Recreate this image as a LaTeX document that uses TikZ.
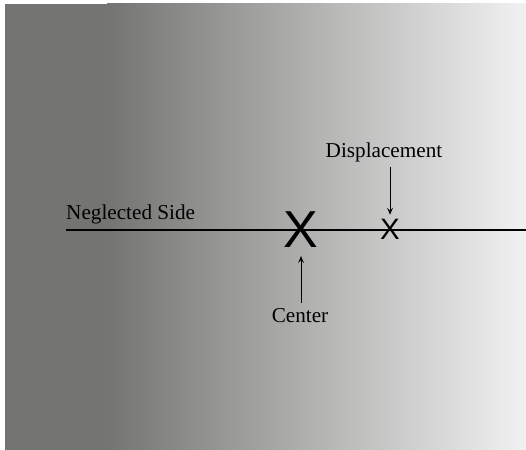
\documentclass[tikz,border=0pt]{standalone}
\usepackage{xcolor}
\usepackage{fontspec}
\setmainfont{Liberation Serif}
\newfontfamily\markfont{Liberation Sans}
\usepackage{tikz}
\usetikzlibrary{arrows.meta,positioning,calc}
\definecolor{bgdark}{HTML}{747472}
\definecolor{bglight}{HTML}{F2F2F2}

\begin{document}
\begin{tikzpicture}[
            x=1pt, y=-1pt,
            every node/.style={inner sep=0pt},
            lbl/.style={font=\fontsize{21.2}{25}\selectfont},
            bigx/.style={font=\markfont\fontsize{52}{52}\selectfont},
            smallx/.style={font=\markfont\fontsize{29.5}{30}\selectfont},
            sidel/.style={draw=black, line width=1.5pt},
            lead/.style={-{Stealth[length=7pt,width=6pt,inset=3pt]}, line width=0.8pt}
        ]
        \useasboundingbox (0,0) rectangle (526,449.5);

        % background: dark band, then fade to light
        \fill[bgdark] (5,4) rectangle (108,452);
        \shade[left color=bgdark, right color=bglight] (107,4) rectangle (528,452);

        % side line
        \coordinate (lineL) at (66,230);
        \coordinate (lineR) at (528,230);
        \draw[sidel] (lineL) -- (lineR);
        \node[lbl, anchor=base west] (neg) at (66,219) {Neglected Side};

        % marks
        \node[bigx] (ctr) at (301,230) {X};
        \node[smallx] (dsp) at (390,229) {X};

        % labels with leaders
        \node[lbl, anchor=base] (disp) at (384,157) {Displacement};
        \node[lbl, anchor=base] (cen) at (300,322) {Center};

        \draw[lead, shorten <=5pt, shorten >=4pt] (disp.south -| dsp.north) -- (dsp.north);
        \draw[lead, shorten <=5pt, shorten >=8pt] (cen.north -| ctr.south) -- (ctr.south);
    \end{tikzpicture}
\end{document}
